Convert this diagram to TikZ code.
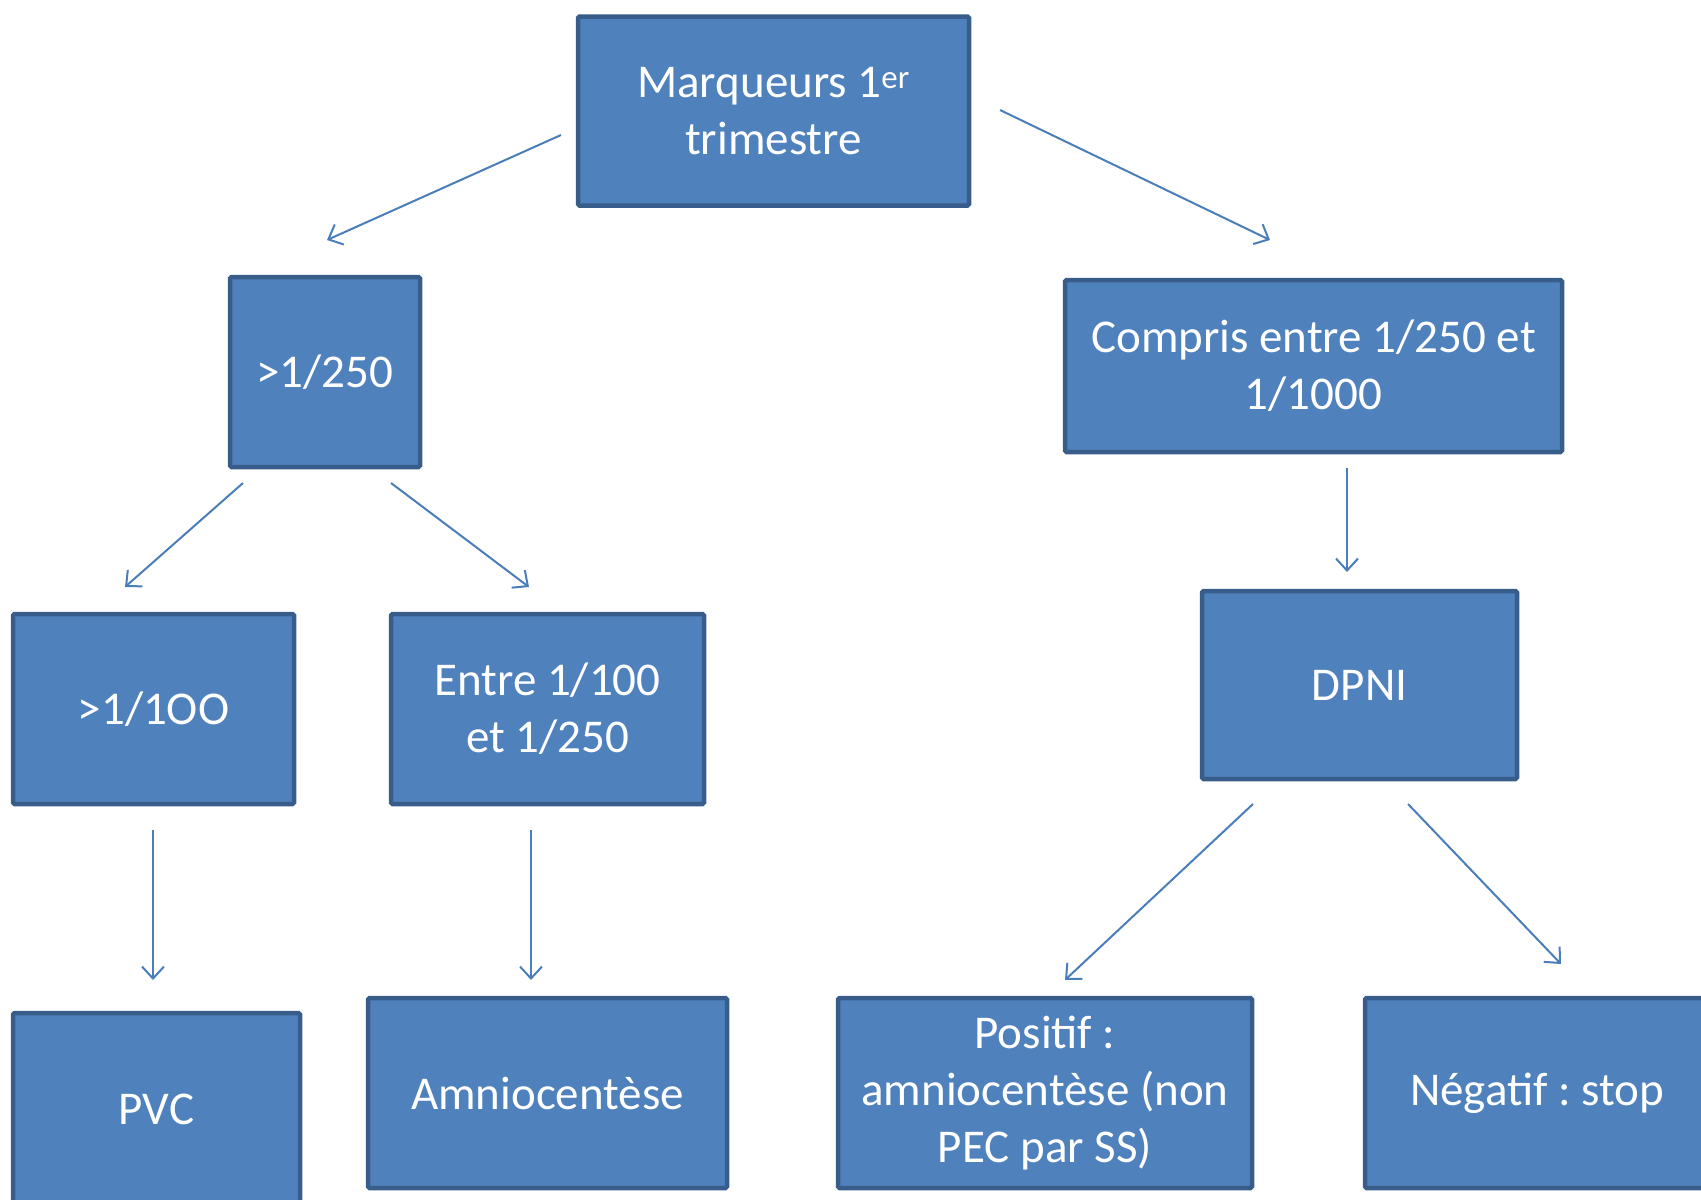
\documentclass[tikz,border=0pt]{standalone}
\usepackage{fontspec}
\setmainfont{Carlito}
\usetikzlibrary{arrows.meta}
\definecolor{boxfill}{HTML}{4F81BD}
\definecolor{boxline}{HTML}{385D8A}
\definecolor{arrowc}{HTML}{4A7EBB}
\frenchspacing
\begin{document}
\begin{tikzpicture}[x=1pt,y=-1pt,
  box/.style={draw=boxline, fill=boxfill, line width=4.5pt, rounded corners=1.5pt,
    text=white, align=center, inner sep=0pt,
    font=\fontsize{47}{57}\selectfont},
  conn/.style={draw=arrowc, line width=2pt,
    -{Straight Barb[length=12pt,width=22pt,line width=2pt]}}]
\useasboundingbox (0,0) rectangle (1701,1200);
\begin{scope}
\clip (0,0) rectangle (1701,1200);
\node[box, minimum width=391pt, minimum height=189pt] (top) at (773.5,111) {Marqueurs 1\textsuperscript{er}\\trimestre};
\node[box, minimum width=190pt, minimum height=190pt] (g250) at (325,372) {>1/250};
\node[box, minimum width=497pt, minimum height=172pt] (compris) at (1313.5,366) {Compris entre 1/250 et\\1/1000};
\node[box, minimum width=315pt, minimum height=188pt] (dpni) at (1359.5,685) {DPNI};
\node[box, minimum width=281pt, minimum height=190pt] (g100) at (153.5,709) {>1/1OO};
\node[box, minimum width=313pt, minimum height=190pt] (entre) at (547.5,709) {Entre 1/100\\et 1/250};
\node[box, minimum width=287pt, minimum height=192pt] (pvc) at (156.5,1109) {PVC};
\node[box, minimum width=359pt, minimum height=190pt] (amnio) at (547.5,1093) {Amniocentèse};
\node[box, minimum width=414pt, minimum height=190pt] (positif) at (1045,1093) {Positif :\\amniocentèse (non\\PEC par SS)};
\node[box, minimum width=344pt, minimum height=190pt] (negatif) at (1537,1093) {Négatif : stop};

\coordinate (a1s) at (561,135);  \coordinate (a1e) at (327,240);
\coordinate (a2s) at (1000,110); \coordinate (a2e) at (1270,240);
\coordinate (a3s) at (243,483);  \coordinate (a3e) at (125,587);
\coordinate (a4s) at (391,483);  \coordinate (a4e) at (529,587);
\coordinate (a5s) at (1347,468); \coordinate (a5e) at (1347,572);
\coordinate (a6s) at (153,830);  \coordinate (a6e) at (153,980);
\coordinate (a7s) at (531,830);  \coordinate (a7e) at (531,980);
\coordinate (a8s) at (1253,804); \coordinate (a8e) at (1065,980);
\coordinate (a9s) at (1408,804); \coordinate (a9e) at (1561,964);

\draw[conn] (a1s) -- (a1e);
\draw[conn] (a2s) -- (a2e);
\draw[conn] (a3s) -- (a3e);
\draw[conn] (a4s) -- (a4e);
\draw[conn] (a5s) -- (a5e);
\draw[conn] (a6s) -- (a6e);
\draw[conn] (a7s) -- (a7e);
\draw[conn] (a8s) -- (a8e);
\draw[conn] (a9s) -- (a9e);
\end{scope}
\end{tikzpicture}
\end{document}
